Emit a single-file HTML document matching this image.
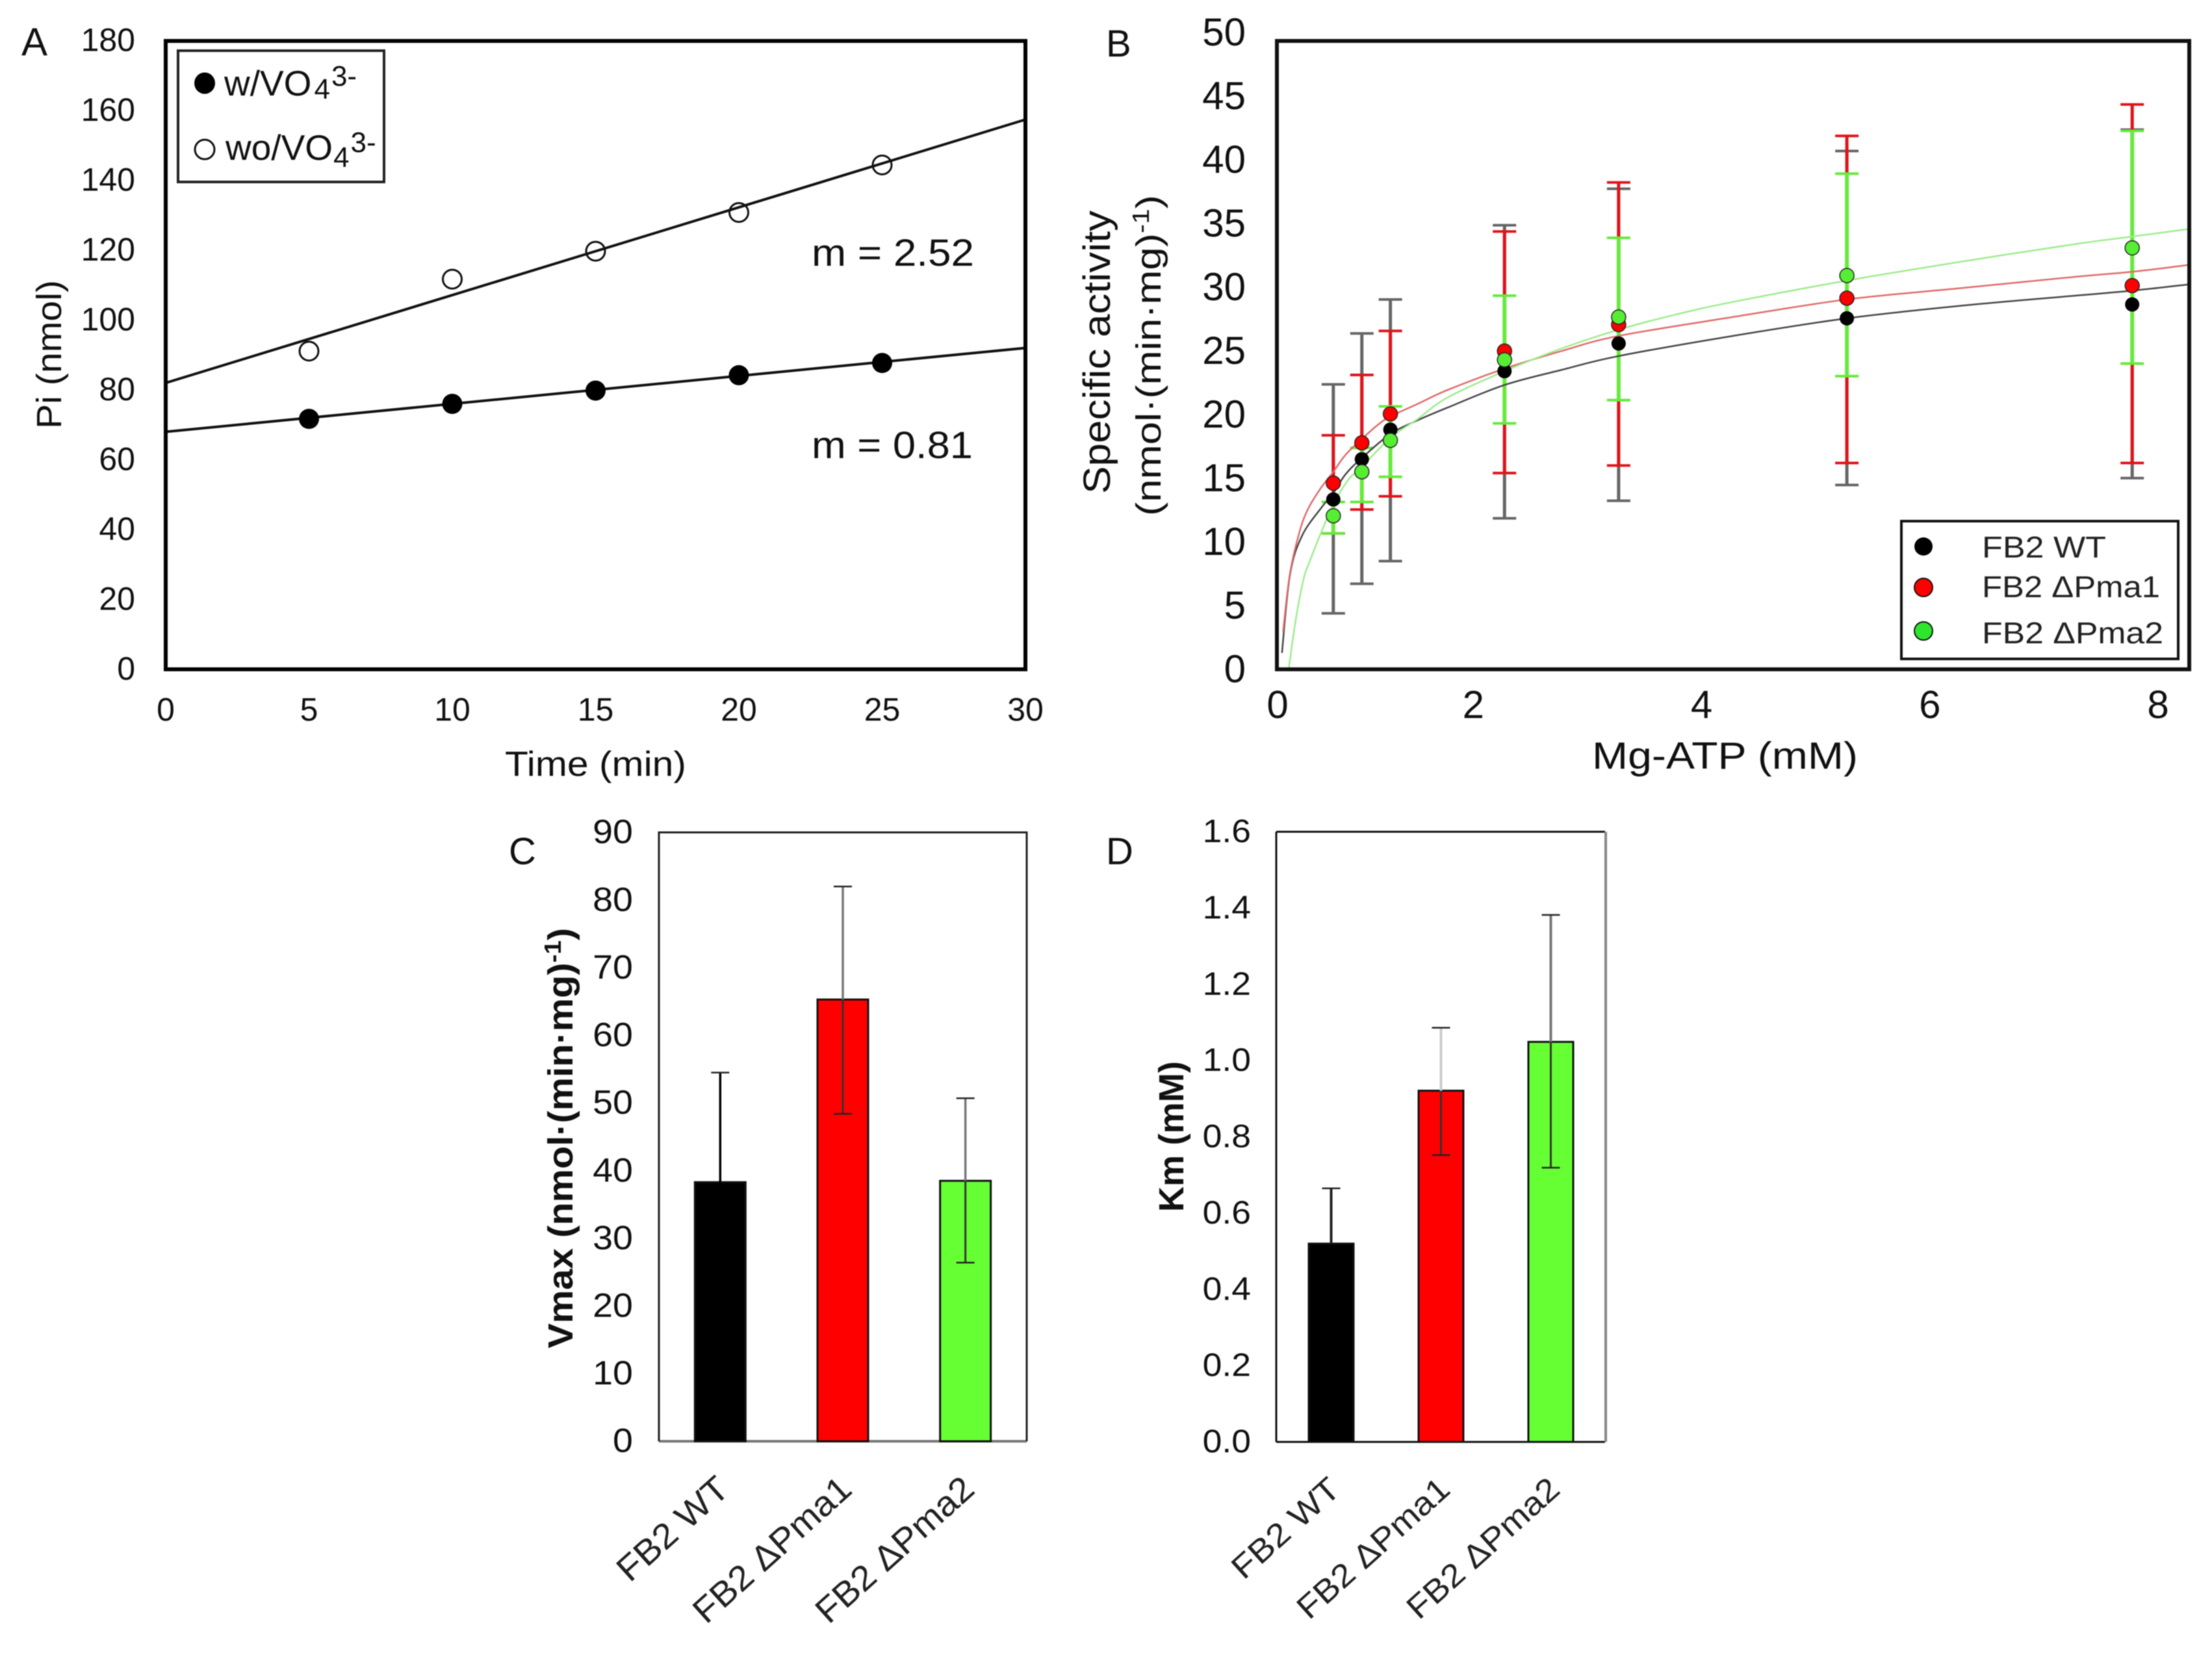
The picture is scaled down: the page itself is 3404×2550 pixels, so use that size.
<!DOCTYPE html>
<html lang="en">
<head>
<meta charset="utf-8">
<title>Panels A-D: ATPase activity, kinetics, Vmax and Km</title>
<style>
html,body{margin:0;padding:0;background:#fff;}
svg{display:block;font-family:"Liberation Sans",Arial,sans-serif;fill:#111;filter:blur(0.9px);}
</style>
</head>
<body>
<svg id="figure" xmlns="http://www.w3.org/2000/svg" width="3404" height="2550" viewBox="0 0 3404 2550">
  <rect x="0" y="0" width="3404" height="2550" fill="#fff"/>
  <defs>
    <clipPath id="clip-b"><rect x="1964" y="62" width="1405" height="968"/></clipPath>
  </defs>

  <!-- Panel A static -->
  <text x="33" y="85" font-size="60">A</text>
  <g id="a-marks"></g>
  <rect x="255" y="63" width="1323" height="967" fill="none" stroke="#000" stroke-width="6"/>
  <g>
    <rect x="274" y="78" width="317" height="202" fill="#fff" stroke="#222" stroke-width="4"/>
    <ellipse cx="315" cy="128" rx="16" ry="16.5" fill="#000"/>
    <text x="345" y="147" font-size="55">w/VO<tspan font-size="44" dx="4" dy="5">4</tspan><tspan font-size="44" dx="2" dy="-20">3-</tspan></text>
    <ellipse cx="315" cy="230" rx="15" ry="15" fill="#fff" stroke="#111" stroke-width="3"/>
    <text x="347" y="246" font-size="55">wo/VO<tspan font-size="44" dx="1" dy="11">4</tspan><tspan font-size="44" dx="2" dy="-23">3-</tspan></text>
  </g>
  <text x="1249" y="409" font-size="58" textLength="250" lengthAdjust="spacingAndGlyphs">m = 2.52</text>
  <text x="1249" y="705" font-size="58" textLength="248" lengthAdjust="spacingAndGlyphs">m = 0.81</text>
  <text x="777" y="1194" font-size="54" textLength="279" lengthAdjust="spacingAndGlyphs">Time (min)</text>
  <text transform="translate(94,660) rotate(-90)" font-size="54" textLength="229" lengthAdjust="spacingAndGlyphs">Pi (nmol)</text>

  <!-- Panel B static -->
  <text x="1702" y="87" font-size="58">B</text>
  <g id="b-marks"></g>
  <rect x="1965" y="63" width="1404" height="967" fill="none" stroke="#111" stroke-width="6"/>
  <g>
    <rect x="2926" y="802" width="426" height="212" fill="#fff" stroke="#111" stroke-width="4"/>
    <circle cx="2960" cy="841" r="14" fill="#000"/>
    <text x="3050" y="858" font-size="46" fill="#222" textLength="191" lengthAdjust="spacingAndGlyphs">FB2 WT</text>
    <circle cx="2960" cy="904" r="14" fill="#f00" stroke="#111" stroke-width="2"/>
    <text x="3050" y="919" font-size="46" fill="#222" textLength="274" lengthAdjust="spacingAndGlyphs">FB2 ΔPma1</text>
    <circle cx="2960" cy="971" r="14" fill="#2ee62e" stroke="#111" stroke-width="2"/>
    <text x="3050" y="990" font-size="46" fill="#222" textLength="279" lengthAdjust="spacingAndGlyphs">FB2 ΔPma2</text>
  </g>
  <text x="2450" y="1183" font-size="58" textLength="409" lengthAdjust="spacingAndGlyphs">Mg-ATP (mM)</text>
  <text transform="translate(1708,760) rotate(-90)" font-size="58" textLength="436" lengthAdjust="spacingAndGlyphs">Specific activity</text>
  <text transform="translate(1786,794) rotate(-90)" font-size="54" textLength="494" lengthAdjust="spacingAndGlyphs">(nmol·(min·mg)<tspan font-size="36" dy="-18">-1</tspan><tspan dy="18">)</tspan></text>

  <!-- Panel C static -->
  <text x="783" y="1330" font-size="58">C</text>
  <path d="M1014 2218H1580" fill="none" stroke="#777" stroke-width="4"/>
  <path d="M1014 2218V1281H1580V2218" fill="none" stroke="#222" stroke-width="3"/>
  <g id="c-marks"></g>
  <text transform="translate(881,2075) rotate(-90)" font-size="54" font-weight="bold" textLength="647" lengthAdjust="spacingAndGlyphs">Vmax (nmol·(min·mg)<tspan font-size="36" dy="-18">-1</tspan><tspan dy="18">)</tspan></text>

  <!-- Panel D static -->
  <text x="1702" y="1330" font-size="58">D</text>
  <path d="M1964 1280H2470M1964 1280V2219M1964 2219H2470" fill="none" stroke="#111" stroke-width="3"/>
  <path d="M2471 1280V2219" fill="none" stroke="#888" stroke-width="4"/>
  <g id="d-marks"></g>
  <text transform="translate(1821,1865) rotate(-90)" font-size="54" font-weight="bold" textLength="232" lengthAdjust="spacingAndGlyphs">Km (mM)</text>

<script>
// Panel A data
const aTimes = [5, 10, 15, 20, 25];
const aWithVanadate = [71.7, 76, 79.8, 84.2, 87.7];
const aWithoutVanadate = [91.1, 111.7, 119.7, 130.8, 144.4];
const aFitTimes = [0, 30];
const aWithFit = [68, 92];
const aWithoutFit = [82, 157.4];
const aXTicks = [0, 5, 10, 15, 20, 25, 30];
const aYTicks = [0, 20, 40, 60, 80, 100, 120, 140, 160, 180];

// Panel B data
const bDoses = [0.5, 0.75, 1, 2, 3, 5, 7.5];
const bWt = [13.5, 16.7, 19.05, 23.7, 25.9, 27.9, 29.0];
const bWtHigh = [22.65, 26.7, 29.4, 35.3, 38.2, 41.2, 42.9];
const bWtLow = [4.45, 6.8, 8.6, 12.0, 13.4, 14.65, 15.2];
const bPma1 = [14.8, 18.0, 20.3, 25.3, 27.4, 29.5, 30.5];
const bPma1High = [18.6, 23.4, 26.9, 34.8, 38.7, 42.4, 44.9];
const bPma1Low = [10.8, 12.7, 13.75, 15.6, 16.2, 16.4, 16.4];
const bPma2 = [12.2, 15.7, 18.2, 24.6, 28.0, 31.3, 33.5];
const bPma2High = [13.3, 17.6, 20.9, 29.7, 34.3, 39.4, 42.8];
const bPma2Low = [10.8, 13.3, 15.3, 19.55, 21.4, 23.3, 24.3];
const bWtCurveX = [0.05, 0.12, 0.225, 0.4, 0.5, 0.607, 0.75, 1, 1.24, 1.5, 2, 2.5, 3, 4, 5, 6, 7, 7.5, 8];
const bWtCurve = [1.3, 7.5, 10.6, 12.9, 14.0, 15.5, 16.8, 18.7, 19.8, 20.8, 22.6, 23.8, 24.9, 26.5, 27.9, 28.9, 29.7, 30.1, 30.6];
const bPma1CurveX = [0.06, 0.118, 0.2, 0.276, 0.39, 0.5, 0.607, 0.75, 0.886, 1, 1.24, 1.5, 2, 2.5, 3, 4, 5, 6, 7, 7.5, 8];
const bPma1Curve = [3.0, 7.5, 10.8, 12.7, 14.4, 15.7, 17.05, 18.3, 19.4, 20.1, 21.1, 22.2, 23.9, 25.3, 26.5, 28.0, 29.4, 30.3, 31.2, 31.6, 32.15];
const bPma2CurveX = [0.11, 0.17, 0.24, 0.29, 0.39, 0.5, 0.63, 0.75, 1, 1.24, 1.5, 2, 2.5, 3, 3.5, 4, 5, 6, 7, 7.5, 8];
const bPma2Curve = [0.1, 3.9, 7.2, 8.5, 10.8, 13.1, 15.05, 16.1, 18.4, 19.9, 21.6, 23.7, 25.5, 27.0, 28.2, 29.2, 30.9, 32.4, 33.8, 34.4, 35.0];
const bXTicks = [0, 2, 4, 6, 8];
const bYTicks = [0, 5, 10, 15, 20, 25, 30, 35, 40, 45, 50];

// Panels C and D data
const barCategories = ['FB2 WT', 'FB2 ΔPma1', 'FB2 ΔPma2'];
const cValues = [38.3, 65.3, 38.5];
const cHigh = [54.5, 82, 50.7];
const cLow = [22.1, 48.4, 26.4];
const cYTicks = [0, 10, 20, 30, 40, 50, 60, 70, 80, 90];
const dValues = [0.52, 0.921, 1.049];
const dHigh = [0.665, 1.086, 1.382];
const dLow = [0.375, 0.752, 0.719];
const dYTicks = ['0.0', '0.2', '0.4', '0.6', '0.8', '1.0', '1.2', '1.4', '1.6'];

const NS = 'http://www.w3.org/2000/svg';
function make(tag, attrs, parent) {
  const el = document.createElementNS(NS, tag);
  for (const k in attrs) el.setAttribute(k, attrs[k]);
  parent.appendChild(el);
  return el;
}
function polyPoints(xs, ys, sx, sy) {
  return xs.map(function (x, i) { return sx(x) + ',' + sy(ys[i]); }).join(' ');
}
function smoothPath(xs, ys, sx, sy) {
  const p = xs.map(function (x, i) { return [sx(x), sy(ys[i])]; });
  let d = 'M' + p[0][0] + ' ' + p[0][1];
  for (let i = 0; i < p.length - 1; i++) {
    const p0 = p[Math.max(i - 1, 0)], p1 = p[i], p2 = p[i + 1], p3 = p[Math.min(i + 2, p.length - 1)];
    d += 'C' + (p1[0] + (p2[0] - p0[0]) / 6) + ' ' + (p1[1] + (p2[1] - p0[1]) / 6) + ' ' +
         (p2[0] - (p3[0] - p1[0]) / 6) + ' ' + (p2[1] - (p3[1] - p1[1]) / 6) + ' ' + p2[0] + ' ' + p2[1];
  }
  return d;
}
function widen(el, factor) {
  el.setAttribute('textLength', el.getComputedTextLength() * factor);
  el.setAttribute('lengthAdjust', 'spacingAndGlyphs');
}

// ---------- Panel A ----------
const aGroup = document.getElementById('a-marks');
const aX = function (v) { return 255 + v * 1323 / 30; };
const aY = function (v) { return 1030 - v * 967.5 / 180; };

aXTicks.forEach(function (t) {
  const el = make('text', { x: aX(t), y: 1109, 'font-size': 50, 'text-anchor': 'middle' }, aGroup);
  
  
  el.textContent = t;
});
aYTicks.forEach(function (t) {
  const el = make('text', { x: 208, y: aY(t) + 16, 'font-size': 50, 'text-anchor': 'end' }, aGroup);
  
  
  el.textContent = t;
});

const aLine1 = make('polyline', { points: polyPoints(aFitTimes, aWithFit, aX, aY), fill: 'none', stroke: '#111', 'stroke-width': 4 }, aGroup);


const aLine2 = make('polyline', { points: polyPoints(aFitTimes, aWithoutFit, aX, aY), fill: 'none', stroke: '#111', 'stroke-width': 4 }, aGroup);



aTimes.forEach(function (t, i) {
  const filled = make('circle', { cx: aX(t), cy: aY(aWithVanadate[i]), r: 15.5, fill: '#000' }, aGroup);
  
  
  const open = make('circle', { cx: aX(t), cy: aY(aWithoutVanadate[i]), r: 14.5, fill: 'none', stroke: '#111', 'stroke-width': 3 }, aGroup);
  
  
});

// ---------- Panel B ----------
const bGroup = document.getElementById('b-marks');
const bX = function (v) { return 1964 + v * 1405 / 8; };
const bY = function (v) { return 1030 - v * 968 / 50; };
const bTickLabelX = function (v) { return v === 0 ? bX(v) + 2 : bX(v) - 48; };
const bTickLabelY = function (v) { return 1030 - v * 19.6; };

bXTicks.forEach(function (t) {
  const el = make('text', { x: bTickLabelX(t), y: 1105, 'font-size': 60, 'text-anchor': 'middle' }, bGroup);
  
  
  el.textContent = t;
});
bYTicks.forEach(function (t) {
  const el = make('text', { x: 1917, y: bTickLabelY(t) + 20, 'font-size': 60, 'text-anchor': 'end' }, bGroup);
  
  
  el.textContent = t;
});

function drawErrorBars(high, low, color, width) {
  bDoses.forEach(function (d, i) {
    const stem = make('line', { x1: bX(d), x2: bX(d), y1: bY(high[i]), y2: bY(low[i]), stroke: color, 'stroke-width': width }, bGroup);
    
    
    [high[i], low[i]].forEach(function (v) {
      const cap = make('line', { x1: bX(d) - 18, x2: bX(d) + 18, y1: bY(v), y2: bY(v), stroke: color, 'stroke-width': 4 }, bGroup);
      
      
    });
  });
}
drawErrorBars(bWtHigh, bWtLow, '#666', 5);
drawErrorBars(bPma1High, bPma1Low, '#e0141a', 5);
drawErrorBars(bPma2High, bPma2Low, '#66ea3c', 6);

const curveWt = make('path', { d: smoothPath(bWtCurveX, bWtCurve, bX, bY), fill: 'none', stroke: '#444', 'stroke-width': 2.5, 'clip-path': 'url(#clip-b)' }, bGroup);


const curvePma1 = make('path', { d: smoothPath(bPma1CurveX, bPma1Curve, bX, bY), fill: 'none', stroke: '#e06868', 'stroke-width': 2.5, 'clip-path': 'url(#clip-b)' }, bGroup);


const curvePma2 = make('path', { d: smoothPath(bPma2CurveX, bPma2Curve, bX, bY), fill: 'none', stroke: '#9cec8c', 'stroke-width': 2.5, 'clip-path': 'url(#clip-b)' }, bGroup);



bDoses.forEach(function (d, i) {
  const a = make('circle', { cx: bX(d), cy: bY(bWt[i]), r: 11, fill: '#000' }, bGroup);
  
  
  const b = make('circle', { cx: bX(d), cy: bY(bPma1[i]), r: 11, fill: '#f00', stroke: '#222', 'stroke-width': 1.5 }, bGroup);
  
  
  const c = make('circle', { cx: bX(d), cy: bY(bPma2[i]), r: 11, fill: '#55ee33', stroke: '#222', 'stroke-width': 1.5 }, bGroup);
  
  
});

// ---------- Bars (C, D) ----------
const barColors = ['#000', '#ff0000', '#66ff33'];
function drawBarPanel(group, left, width, top, bottom, maxValue, values, high, low, barWidth, ticks, tickRight, tickSize, tickWiden, tickShift, catSize, catLengths, catEnd, catY, upperColors, upperWidth) {
  const sx = function (i) { return left + width * (i + 0.5) / barCategories.length; };
  const sy = function (v) { return bottom - Number(v) * (bottom - top) / maxValue; };
  ticks.forEach(function (t) {
    const el = make('text', { x: tickRight, y: sy(t) + tickSize * 0.36 + tickShift, 'font-size': tickSize, 'text-anchor': 'end' }, group);
    
    
    el.textContent = t;
    widen(el, tickWiden);
  });
  barCategories.forEach(function (name, i) {
    const bar = make('rect', { x: sx(i) - barWidth / 2, y: sy(values[i]), width: barWidth, height: bottom - sy(values[i]), fill: barColors[i], stroke: '#111', 'stroke-width': 3 }, group);
    
    
    const upper = make('line', { x1: sx(i), x2: sx(i), y1: sy(high[i]), y2: sy(values[i]), stroke: upperColors[i], 'stroke-width': upperWidth }, group);
    
    
    const lower = make('line', { x1: sx(i), x2: sx(i), y1: sy(values[i]), y2: sy(low[i]), stroke: i === 0 ? '#000' : '#333', 'stroke-width': 3 }, group);
    
    
    const capHigh = make('line', { x1: sx(i) - 14, x2: sx(i) + 14, y1: sy(high[i]), y2: sy(high[i]), stroke: '#222', 'stroke-width': 2.5 }, group);
    
    
    const capLow = make('line', { x1: sx(i) - 14, x2: sx(i) + 14, y1: sy(low[i]), y2: sy(low[i]), stroke: i === 0 ? '#000' : '#222', 'stroke-width': 2.5 }, group);
    
    
    const label = make('text', {
      transform: 'translate(' + (sx(i) + catEnd) + ',' + catY + ') rotate(-42)',
      'font-size': catSize, 'text-anchor': 'end', fill: '#222',
      textLength: catLengths[i], lengthAdjust: 'spacingAndGlyphs'
    }, group);
    
    
    label.textContent = name;
  });
}
drawBarPanel(document.getElementById('c-marks'), 1014, 566, 1281, 2218, 90, cValues, cHigh, cLow, 78, cYTicks, 974, 52, 1.07, -2, 54, [210, 306, 306], 17, 2296, ['#000', '#777', '#777'], 3.5);
drawBarPanel(document.getElementById('d-marks'), 1964, 507, 1280, 2219, 1.6, dValues, dHigh, dLow, 69, dYTicks, 1925, 50, 1.07, -2, 50, [204, 296, 296], 17, 2296, ['#222', '#ccc', '#777'], 4);
</script>
</svg>
</body>
</html>
